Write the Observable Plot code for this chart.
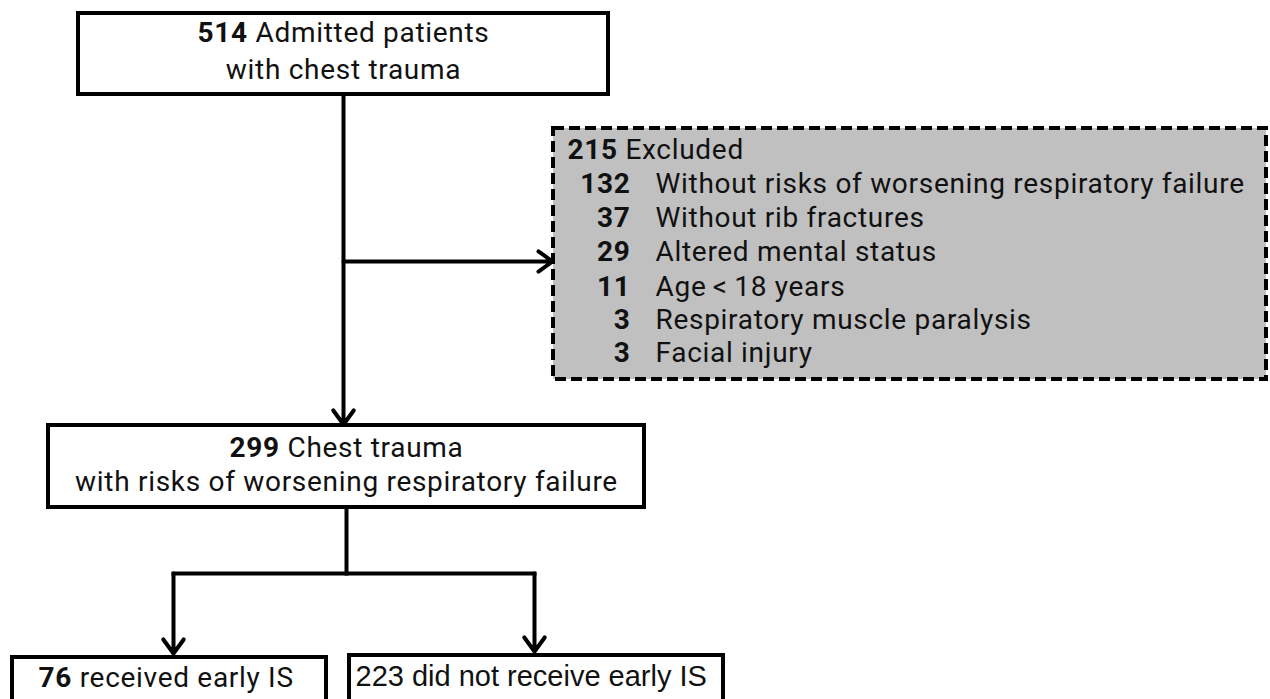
<!DOCTYPE html>
<html>
<head>
<meta charset="utf-8">
<script src="https://cdn.jsdelivr.net/npm/d3@7"></script>
<script src="https://cdn.jsdelivr.net/npm/@observablehq/plot@0.6"></script>
<style>
  html, body { margin: 0; padding: 0; overflow: hidden; background: #fff; }
</style>
</head>
<body>
<div id="chart"></div>
<script>
// ---- content ----
const topLines = ["514 Admitted patients", "with chest trauma"];
const excludedHeader = "215 Excluded";
const excludedCounts = ["132", "37", "29", "11", "3", "3"];
const excludedReasons = [
  "Without risks of worsening respiratory failure",
  "Without rib fractures",
  "Altered mental status",
  "Age\u2009<\u200918 years",
  "Respiratory muscle paralysis",
  "Facial injury"
];
const middleLines = ["299 Chest trauma", "with risks of worsening respiratory failure"];
const groupLabels = ["76 received early IS", "223 did not receive early IS"];

// ---- layout (pixel coordinates of the diagram) ----
const boxX1 = [78, 48, 12, 349];
const boxX2 = [608, 644, 326, 723];
const boxY1 = [13, 425, 657, 655];
const boxY2 = [94, 507, 760, 760];
const exclBox = {x1: 553, x2: 1266, y1: 128, y2: 379};
const topLineY = [33, 70];
const middleLineY = [448, 482];
const rowY = [184, 218, 252, 287, 320, 353];
const linkSegs = [
  {x1: 346, y1: 507, x2: 346, y2: 573},
  {x1: 173, y1: 573, x2: 534, y2: 573}
];
const arrowSegs = [
  {x1: 343, y1: 94, x2: 343, y2: 424},
  {x1: 343, y1: 261, x2: 552, y2: 261},
  {x1: 173, y1: 573, x2: 173, y2: 653},
  {x1: 534, y1: 573, x2: 534, y2: 651}
];

const boxes = boxX1.map((x1, i) => ({x1, x2: boxX2[i], y1: boxY1[i], y2: boxY2[i]}));
const topText = topLines.map((t, i) => ({t, x: 343, y: topLineY[i]}));
const midText = middleLines.map((t, i) => ({t, x: 346, y: middleLineY[i]}));
const rows = excludedCounts.map((c, i) => ({c, r: excludedReasons[i], y: rowY[i]}));

const FONT = "Roboto, 'Noto Sans', sans-serif";
const FS = 28;

const chart = Plot.plot({
  width: 1270,
  height: 699,
  margin: 0,
  x: {domain: [0, 1270], range: [0, 1270], axis: null},
  y: {domain: [0, 699], range: [0, 699], axis: null},
  marks: [
    Plot.rect([exclBox], {x1: "x1", x2: "x2", y1: "y1", y2: "y2", fill: "#c0c0c0", stroke: "#000", strokeWidth: 4, strokeDasharray: "11,5"}),
    Plot.rect(boxes, {x1: "x1", x2: "x2", y1: "y1", y2: "y2", fill: "#fff", stroke: "#000", strokeWidth: 4}),
    Plot.link(linkSegs, {x1: "x1", y1: "y1", x2: "x2", y2: "y2", stroke: "#000", strokeWidth: 4, strokeLinecap: "square"}),
    Plot.arrow(arrowSegs, {x1: "x1", y1: "y1", x2: "x2", y2: "y2", stroke: "#000", strokeWidth: 4, headLength: 6.5, headAngle: 72}),
    Plot.text(topText, {x: "x", y: "y", text: "t", fontFamily: FONT, fontSize: FS, fill: "#111"}),
    Plot.text(midText, {x: "x", y: "y", text: "t", fontFamily: FONT, fontSize: FS, fill: "#111"}),
    Plot.text([excludedHeader], {x: 567, y: 150, text: d => d, textAnchor: "start", fontFamily: FONT, fontSize: FS, fill: "#111"}),
    Plot.text(rows, {x: 630, y: "y", text: "c", textAnchor: "end", fontWeight: "bold", fontFamily: FONT, fontSize: FS, fill: "#111"}),
    Plot.text(rows, {x: 655, y: "y", text: "r", textAnchor: "start", fontFamily: FONT, fontSize: FS, fill: "#111"}),
    Plot.text([groupLabels[0]], {x: 38, y: 678, text: d => d, textAnchor: "start", fontFamily: FONT, fontSize: FS, fill: "#111"}),
    Plot.text([groupLabels[1]], {x: 355, y: 676, text: d => d, textAnchor: "start", fontFamily: "'Liberation Sans', Arial, sans-serif", fontSize: 29, fill: "#111"})
  ]
});

// Slight tracking for the Roboto labels (the reference face is set wider)
chart.querySelectorAll("g[font-family]").forEach(g => {
  if (g.getAttribute("font-family").startsWith("Roboto")) g.setAttribute("letter-spacing", "0.7");
});

// Bold the leading count in mixed-weight lines
const mixed = [topLines[0], middleLines[0], excludedHeader, groupLabels[0]];
chart.querySelectorAll("text").forEach(el => {
  const s = el.textContent;
  if (!mixed.includes(s)) return;
  const m = s.match(/^(\d+)(.*)$/);
  if (!m) return;
  el.textContent = "";
  const b = document.createElementNS("http://www.w3.org/2000/svg", "tspan");
  b.setAttribute("font-weight", "bold");
  b.textContent = m[1];
  el.appendChild(b);
  el.appendChild(document.createTextNode(m[2]));
});

document.getElementById("chart").appendChild(chart);
</script>
</body>
</html>
